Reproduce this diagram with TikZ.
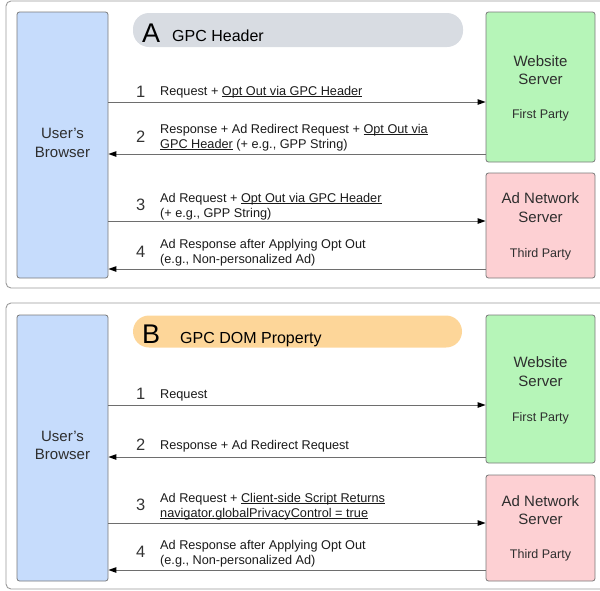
\documentclass[tikz,border=0pt]{standalone}
\usepackage{fontspec}
\setmainfont{Liberation Sans}
\usetikzlibrary{arrows.meta}
\definecolor{framec}{HTML}{9A9A9A}
\definecolor{boxc}{HTML}{7A7A7A}
\definecolor{browserfill}{HTML}{C6DCFC}
\definecolor{webfill}{HTML}{B6F5B8}
\definecolor{adfill}{HTML}{FDD0D3}
\definecolor{pillA}{HTML}{D8DCE2}
\definecolor{pillB}{HTML}{FDD699}
\definecolor{linec}{HTML}{6E6E6E}
\definecolor{numc}{HTML}{333333}
\definecolor{txtc}{HTML}{1A1A1A}
\definecolor{boxtxt}{HTML}{2E2E2E}
\newsavebox\ulbox
\newcommand{\myul}[1]{\sbox\ulbox{#1}\rlap{\rule[-1.9pt]{\wd\ulbox}{0.7pt}}\usebox\ulbox}
\newcommand{\sq}{\char"0027\relax}
\tikzset{
  frame/.style={draw=framec, line width=0.9pt, rounded corners=5pt},
  actor/.style={draw=boxc, line width=0.8pt, rounded corners=2.5pt, inner sep=0pt},
  pill/.style={rounded corners=16pt, draw=none},
  msg/.style={draw=linec, line width=1pt, -{Triangle[length=8pt,width=5.5pt,fill=black,color=black]}},
  num/.style={font=\fontsize{16.5}{18}\selectfont, text=numc, anchor=base west, inner sep=0pt},
  lbl/.style={font=\fontsize{12.7}{15}\selectfont, text=txtc, anchor=base west, inner sep=0pt},
  btxt/.style={font=\fontsize{15}{18}\selectfont, text=boxtxt, anchor=base, inner sep=0pt},
  ptxt/.style={font=\fontsize{12.5}{15}\selectfont, text=boxtxt, anchor=base, inner sep=0pt},
  bigl/.style={font=\fontsize{27}{30}\selectfont, text=black, anchor=base west, inner sep=0pt},
  htxt/.style={font=\fontsize{16}{18}\selectfont, text=black, anchor=base west, inner sep=0pt},
}
\begin{document}
\begin{tikzpicture}[x=1pt,y=-1pt]
\useasboundingbox (0,0) rectangle (600,590);
\begin{scope}
\clip (0,0) rectangle (600,590);
\draw[frame] (6,1) rectangle (612,288);
\draw[frame] (6,303) rectangle (612,589);
\end{scope}

% ===== Panel A =====
\fill[pillA, pill] (133,13) rectangle (463,47);
\node[bigl] (hA1) at (142,42) {A};
\node[htxt] (hA2) at (172,41) {GPC Header};

\node[actor, fill=browserfill, minimum width=91pt, minimum height=266pt] (brA) at (62.5,145) {};
\node[btxt] (brA1) at (62.5,138) {User\sq s};
\node[btxt] (brA2) at (62.5,157) {Browser};

\node[actor, fill=webfill, minimum width=109pt, minimum height=150pt] (wsA) at (540.5,87) {};
\node[btxt] (wsA1) at (540.5,66) {Website};
\node[btxt] (wsA2) at (540.5,84) {Server};
\node[ptxt] (wsA3) at (540.5,118) {First Party};

\node[actor, fill=adfill, minimum width=109pt, minimum height=105pt] (adA) at (540.5,225.5) {};
\node[btxt] (adA1) at (540.5,203) {Ad Network};
\node[btxt] (adA2) at (540.5,222) {Server};
\node[ptxt] (adA3) at (540.5,257) {Third Party};

\coordinate (yA1) at (0,102);
\coordinate (yA2) at (0,154);
\coordinate (yA3) at (0,221);
\coordinate (yA4) at (0,269);
\draw[msg] (brA.east |- yA1) -- (wsA.west |- yA1);
\draw[msg] (wsA.west |- yA2) -- (brA.east |- yA2);
\draw[msg] (brA.east |- yA3) -- (adA.west |- yA3);
\draw[msg] (adA.west |- yA4) -- (brA.east |- yA4);

\node[num] (nA1) at (136,97) {1};
\node[lbl] (lA1) at (160,95) {Request + \myul{Opt Out via GPC Header}};
\node[num] (nA2) at (136,142) {2};
\node[lbl] (lA2a) at (160,133) {Response + Ad Redirect Request + \myul{Opt Out via}};
\node[lbl] (lA2b) at (160,148) {\myul{GPC Header} (+ e.g., GPP String)};
\node[num] (nA3) at (136,210) {3};
\node[lbl] (lA3a) at (160,202) {Ad Request + \myul{Opt Out via GPC Header}};
\node[lbl] (lA3b) at (160,217) {(+ e.g., GPP String)};
\node[num] (nA4) at (136,257) {4};
\node[lbl] (lA4a) at (160,248) {Ad Response after Applying Opt Out};
\node[lbl] (lA4b) at (160,263) {(e.g., Non-personalized Ad)};

% ===== Panel B =====
\fill[pillB, pill] (133,315.5) rectangle (462,347.5);
\node[bigl] (hB1) at (142,343) {B};
\node[htxt] (hB2) at (180,343) {GPC DOM Property};

\node[actor, fill=browserfill, minimum width=91pt, minimum height=266pt] (brB) at (62.5,448) {};
\node[btxt] (brB1) at (62.5,441) {User\sq s};
\node[btxt] (brB2) at (62.5,459) {Browser};

\node[actor, fill=webfill, minimum width=109pt, minimum height=148pt] (wsB) at (540.5,389) {};
\node[btxt] (wsB1) at (540.5,367) {Website};
\node[btxt] (wsB2) at (540.5,386) {Server};
\node[ptxt] (wsB3) at (540.5,421) {First Party};

\node[actor, fill=adfill, minimum width=109pt, minimum height=106pt] (adB) at (540.5,528) {};
\node[btxt] (adB1) at (540.5,506) {Ad Network};
\node[btxt] (adB2) at (540.5,524) {Server};
\node[ptxt] (adB3) at (540.5,558) {Third Party};

\coordinate (yB1) at (0,405);
\coordinate (yB2) at (0,457);
\coordinate (yB3) at (0,523);
\coordinate (yB4) at (0,570);
\draw[msg] (brB.east |- yB1) -- (wsB.west |- yB1);
\draw[msg] (wsB.west |- yB2) -- (brB.east |- yB2);
\draw[msg] (brB.east |- yB3) -- (adB.west |- yB3);
\draw[msg] (adB.west |- yB4) -- (brB.east |- yB4);

\node[num] (nB1) at (136,399) {1};
\node[lbl] (lB1) at (160,398) {Request};
\node[num] (nB2) at (136,450) {2};
\node[lbl] (lB2) at (160,449) {Response + Ad Redirect Request};
\node[num] (nB3) at (136,510) {3};
\node[lbl] (lB3a) at (160,502) {Ad Request + \myul{Client-side Script Returns}};
\node[lbl] (lB3b) at (160,517) {\myul{navigator.globalPrivacyControl = true}};
\node[num] (nB4) at (136,557) {4};
\node[lbl] (lB4a) at (160,549) {Ad Response after Applying Opt Out};
\node[lbl] (lB4b) at (160,564) {(e.g., Non-personalized Ad)};
\end{tikzpicture}
\end{document}
